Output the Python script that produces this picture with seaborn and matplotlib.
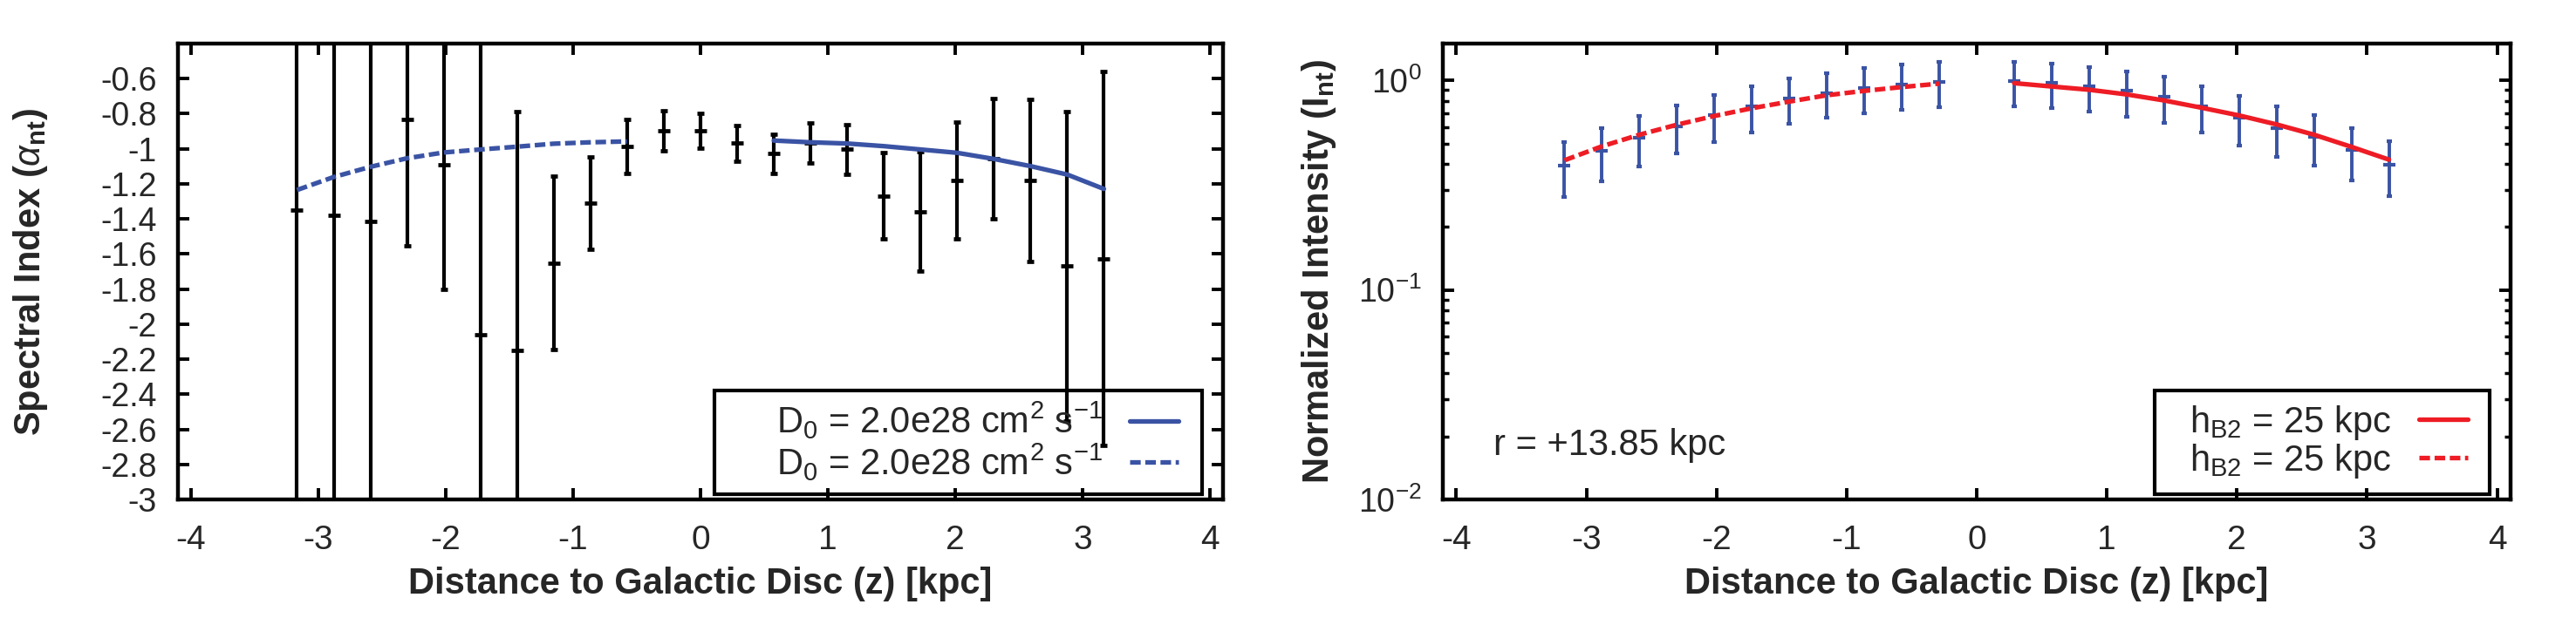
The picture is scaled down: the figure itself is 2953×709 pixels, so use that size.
import numpy as np
import pandas as pd
import matplotlib
matplotlib.use("Agg")
import matplotlib.pyplot as plt
import matplotlib.patches as mpatches
import seaborn as sns

# ---------------- data ----------------
z_all = [-3.168, -2.880, -2.592, -2.304, -2.016, -1.728, -1.440, -1.152, -0.864, -0.576, -0.288,
         0.0, 0.288, 0.576, 0.864, 1.152, 1.440, 1.728, 2.016, 2.304, 2.592, 2.880, 3.168]
alpha_vals = [-1.351, -1.381, -1.412, -0.831, -1.090, -2.060, -2.151, -1.651, -1.310, -0.987, -0.898,
              -0.898, -0.968, -1.028, -0.967, -1.004, -1.268, -1.358, -1.179, -1.058, -1.179, -1.669, -1.627]
alpha_err = [2.5, 2.5, 2.5, 0.72, 0.71, 2.0, 1.365, 0.495, 0.262, 0.154, 0.113,
             0.100, 0.103, 0.112, 0.114, 0.140, 0.245, 0.340, 0.333, 0.343, 0.462, 0.883, 1.067]

z_model_neg = [-3.168, -2.880, -2.592, -2.304, -2.016, -1.728, -1.440, -1.152, -0.864, -0.576]
alpha_model_neg = [-1.235, -1.161, -1.103, -1.054, -1.021, -1.004, -0.988, -0.971, -0.963, -0.958]
z_model_pos = [0.576, 0.864, 1.152, 1.440, 1.728, 2.016, 2.304, 2.592, 2.880, 3.168]
alpha_model_pos = [-0.953, -0.963, -0.970, -0.985, -1.004, -1.023, -1.058, -1.099, -1.147, -1.229]

z_int_neg = [-3.168, -2.880, -2.592, -2.304, -2.016, -1.728, -1.440, -1.152, -0.864, -0.576, -0.288]
int_neg = [0.393, 0.461, 0.533, 0.605, 0.681, 0.751, 0.819, 0.872, 0.921, 0.960, 0.984]
int_err_neg = [0.115, 0.130, 0.143, 0.157, 0.172, 0.185, 0.200, 0.210, 0.225, 0.235, 0.237]
int_model_neg = [0.416, 0.485, 0.551, 0.615, 0.677, 0.737, 0.793, 0.850, 0.892, 0.930, 0.966]

z_int_pos = [0.288, 0.576, 0.864, 1.152, 1.440, 1.728, 2.016, 2.304, 2.592, 2.880, 3.168]
int_pos = [0.989, 0.971, 0.936, 0.890, 0.833, 0.752, 0.667, 0.591, 0.537, 0.464, 0.397]
int_err_pos = [0.240, 0.236, 0.227, 0.218, 0.205, 0.190, 0.176, 0.160, 0.145, 0.130, 0.117]
int_model_pos = [0.971, 0.936, 0.903, 0.858, 0.803, 0.741, 0.681, 0.617, 0.551, 0.482, 0.419]

x_ticks = [-4, -3, -2, -1, 0, 1, 2, 3, 4]
alpha_ticks = [-3, -2.8, -2.6, -2.4, -2.2, -2, -1.8, -1.6, -1.4, -1.2, -1, -0.8, -0.6]
int_ticks = [0.01, 0.1, 1.0]

label_D0 = r'D$_0$ = 2.0e28 cm$^2$ s$^{\mathrm{-1}}$'
label_hB2 = r'h$_{\mathrm{B2}}$ = 25 kpc'

# ---------------- style ----------------
sns.set_style("ticks")
plt.rcParams['font.family'] = ['Liberation Sans', 'DejaVu Sans']
plt.rcParams['mathtext.fontset'] = 'custom'
plt.rcParams['mathtext.rm'] = 'Liberation Sans'
plt.rcParams['mathtext.bf'] = 'Liberation Sans:bold'
plt.rcParams['mathtext.it'] = 'Liberation Sans:italic'
plt.rcParams['mathtext.sf'] = 'Liberation Sans'
plt.rcParams['axes.unicode_minus'] = False

BLUE = '#3a53a4'
RED = '#ee1c25'

fig = plt.figure(figsize=(29.53, 7.09), dpi=100)
axL = fig.add_axes([0.06908, 0.19182, 0.40569, 0.73766])
axR = fig.add_axes([0.56011, 0.19182, 0.41450, 0.73766])


def style_axes(ax):
    for sp in ax.spines.values():
        sp.set_linewidth(3.2)
        sp.set_color('black')
        sp.set_visible(True)
    ax.tick_params(which='major', direction='in', length=9.4, width=2.8,
                   top=True, right=True, color='black')
    ax.tick_params(which='minor', direction='in', length=5, width=2.5,
                   top=True, right=True, color='black')
    ax.tick_params(axis='x', which='major', labelsize=28, pad=21)
    ax.tick_params(axis='y', which='major', labelsize=27, pad=17.5)
    ax.set_xlim(-4.103, 4.103)
    ax.set_xticks(x_ticks)
    ax.set_xticklabels([f"{t:g}" for t in x_ticks])
    ax.set_xlabel('Distance to Galactic Disc (z) [kpc]', fontweight='bold', fontsize=30)
    ax.xaxis.set_label_coords(0.5, -0.148)


def framed_legend(ax, handles, labels, anchor, box):
    leg = ax.legend(handles, labels, loc='center right', markerfirst=False, frameon=False,
                    prop={'size': 30}, handlelength=1.35, handletextpad=0.75,
                    borderpad=0.0, labelspacing=0.0, borderaxespad=0.0,
                    bbox_to_anchor=anchor)
    x0, x1, y0, y1 = box
    rect = mpatches.Rectangle((x0, y0), x1 - x0, y1 - y0, transform=ax.transAxes,
                              fill=False, edgecolor='black', linewidth=3.0, zorder=2,
                              clip_on=False)
    ax.add_patch(rect)
    return leg


# ---------------- left panel ----------------
axL.errorbar(z_all, alpha_vals, yerr=alpha_err, fmt='_', color='black', ms=10, mew=3.4,
             elinewidth=3.0, capsize=2.6, capthick=3.6, zorder=3)
sns.lineplot(x=z_model_pos, y=alpha_model_pos, ax=axL, color=BLUE, lw=3.8,
             label=label_D0, zorder=4)
sns.lineplot(x=z_model_neg, y=alpha_model_neg, ax=axL, color=BLUE, lw=3.8,
             label=label_D0, zorder=4)
axL.lines[-1].set_dashes([2.3, 1.0])
axL.set_ylim(-3.0, -0.4)
axL.set_yticks(alpha_ticks)
axL.set_yticklabels([f"{t:g}" for t in alpha_ticks])
style_axes(axL)
axL.set_ylabel(r'Spectral Index ($\alpha_{\mathbf{nt}}$)', fontweight='bold', fontsize=30)
axL.yaxis.set_label_coords(-0.1227, 0.5)
hL, lL = axL.get_legend_handles_labels()
framed_legend(axL, hL, lL, (0.9574, 0.127), (0.5134, 0.980, 0.0115, 0.2390))

# ---------------- right panel ----------------
axR.set_yscale('log')
axR.errorbar(z_int_neg, int_neg, yerr=int_err_neg, fmt='_', color=BLUE, ms=10, mew=3.0,
             elinewidth=2.8, capsize=2.4, capthick=3.4, zorder=3)
axR.errorbar(z_int_pos, int_pos, yerr=int_err_pos, fmt='_', color=BLUE, ms=10, mew=3.0,
             elinewidth=2.8, capsize=2.4, capthick=3.4, zorder=3)
sns.lineplot(x=z_int_pos, y=int_model_pos, ax=axR, color=RED, lw=3.8,
             label=label_hB2, zorder=4)
sns.lineplot(x=z_int_neg, y=int_model_neg, ax=axR, color=RED, lw=3.8,
             label=label_hB2, zorder=4)
axR.lines[-1].set_dashes([2.3, 1.0])
style_axes(axR)
axR.set_yscale('log')
axR.set_ylim(0.01, 1.5)
axR.set_yticks(int_ticks)
axR.set_ylabel(r'Normalized Intensity (I$_{\mathbf{nt}}$)', fontweight='bold', fontsize=30)
axR.yaxis.set_label_coords(-0.098, 0.5)
axR.text(0.0474, 0.1185, 'r = +13.85 kpc', transform=axR.transAxes, fontsize=30,
         ha='left', va='center')
hR, lR = axR.get_legend_handles_labels()
framed_legend(axR, hR, lR, (0.960, 0.127), (0.6667, 0.980, 0.0115, 0.2390))

fig.savefig('out.png', dpi=100, facecolor='white')
